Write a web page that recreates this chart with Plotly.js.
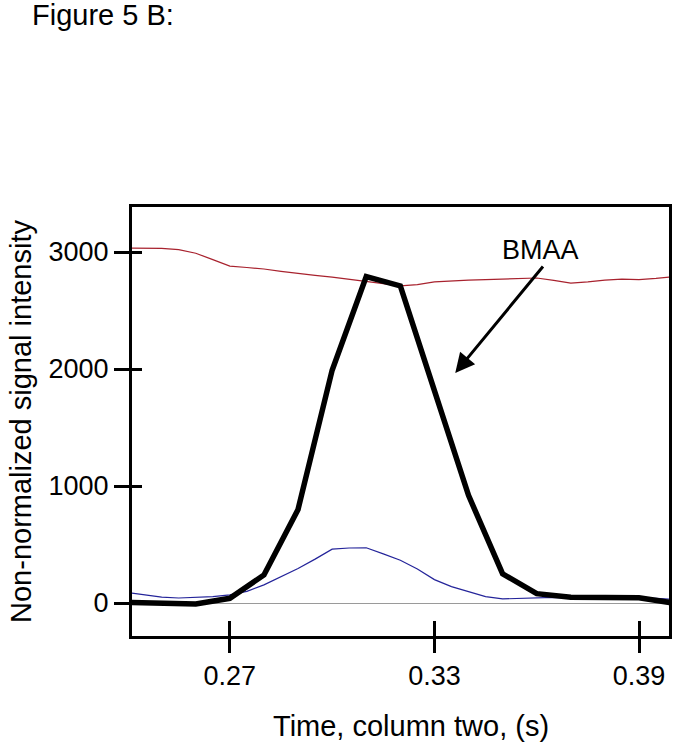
<!DOCTYPE html>
<html>
<head>
<meta charset="utf-8">
<script src="https://cdn.plot.ly/plotly-3.0.1.min.js"></script>
<style>html,body{margin:0;padding:0;background:#fff;}#chart{width:682px;height:753px;}</style>
</head>
<body>
<div id="chart"></div>
<script>
// Tick values / labels
const xTickVals = [0.27, 0.33, 0.39];
const xTickText = ["0.27", "0.33", "0.39"];
const yTickVals = [0, 1000, 2000, 3000];
const yTickText = ["0", "1000", "2000", "3000"];

// BMAA trace (thick black), sampled every 0.01 s
const bmaaX = [0.24, 0.25, 0.26, 0.27, 0.28, 0.29, 0.30, 0.31, 0.32, 0.33, 0.34, 0.35, 0.36, 0.37, 0.38, 0.39, 0.40];
const bmaaY = [5, 0, -8, 40, 240, 800, 1990, 2790, 2710, 1815, 920, 250, 80, 50, 45, 45, 0];

// Red and blue traces, sampled every 0.005 s
const fineX = [0.240, 0.245, 0.250, 0.255, 0.260, 0.265, 0.270, 0.275, 0.280, 0.285, 0.290, 0.295, 0.300, 0.305, 0.310, 0.315, 0.320, 0.325, 0.330, 0.335, 0.340, 0.345, 0.350, 0.355, 0.360, 0.365, 0.370, 0.375, 0.380, 0.385, 0.390, 0.395, 0.400];
const redY = [3034, 3034, 3032, 3020, 2990, 2935, 2880, 2868, 2855, 2835, 2815, 2800, 2785, 2768, 2750, 2730, 2710, 2722, 2745, 2755, 2760, 2765, 2770, 2775, 2778, 2758, 2735, 2745, 2760, 2768, 2765, 2775, 2790];
const blueY = [90, 70, 50, 43, 48, 55, 70, 100, 155, 225, 295, 375, 460, 470, 472, 420, 365, 290, 200, 140, 95, 55, 35, 40, 48, 48, 45, 45, 45, 45, 45, 40, 30];

const FONT = "Arial, 'Liberation Sans', sans-serif";
const xRange = [0.2413, 0.3988];
const yRange = [-282, 3385];

const traces = [
  {x: fineX, y: redY, type: 'scatter', mode: 'lines', line: {color: '#a8222e', width: 1.2}, hoverinfo: 'skip'},
  {x: fineX, y: blueY, type: 'scatter', mode: 'lines', line: {color: '#24249a', width: 1.2}, hoverinfo: 'skip'},
  {x: bmaaX, y: bmaaY, type: 'scatter', mode: 'lines', line: {color: '#000000', width: 5.5, shape: 'linear'}, hoverinfo: 'skip'},
  {x: [], y: [], xaxis: 'x2', yaxis: 'y2', type: 'scatter', mode: 'lines', showlegend: false, hoverinfo: 'skip'}
];

const layout = {
  width: 682, height: 753,
  paper_bgcolor: '#ffffff', plot_bgcolor: '#ffffff',
  showlegend: false,
  margin: {l: 132, r: 13, t: 207, b: 117, pad: 0},
  font: {family: FONT, size: 27, color: '#000'},
  title: {text: 'Figure 5 B:', font: {family: FONT, size: 29, color: '#000'},
          xref: 'container', yref: 'container', x: 32/682, xanchor: 'left', y: 1 - 5/753, yanchor: 'top'},
  xaxis: {
    range: xRange, tickvals: xTickVals, ticktext: xTickText,
    ticks: 'outside', ticklen: 14, tickwidth: 3, tickcolor: '#000',
    showline: true, linewidth: 3, linecolor: '#000', mirror: true,
    showgrid: false, zeroline: false,
    tickfont: {family: FONT, size: 27, color: '#000'}
  },
  yaxis: {
    range: yRange, tickvals: yTickVals, ticktext: yTickText,
    ticks: 'outside', ticklen: 15, tickwidth: 3, tickcolor: '#000',
    showline: true, linewidth: 3, linecolor: '#000', mirror: true,
    showgrid: false, zeroline: true, zerolinecolor: '#9a9a9a', zerolinewidth: 1,
    tickfont: {family: FONT, size: 27, color: '#000'},
    title: {text: 'Non-normalized signal intensity', font: {family: FONT, size: 29, color: '#000'}, standoff: 9}
  },
  xaxis2: {
    overlaying: 'x', range: xRange, tickvals: xTickVals, showticklabels: false,
    ticks: 'inside', ticklen: 15, tickwidth: 3, tickcolor: '#000',
    showline: false, showgrid: false, zeroline: false, side: 'bottom'
  },
  yaxis2: {
    overlaying: 'y', range: yRange, tickvals: yTickVals, showticklabels: false,
    ticks: 'inside', ticklen: 10, tickwidth: 3, tickcolor: '#000',
    showline: false, showgrid: false, zeroline: false, side: 'left'
  },
  annotations: [
    {x: (411 - 132) / 537, y: -0.21, xref: 'paper', yref: 'paper', text: 'Time, column two, (s)', showarrow: false,
     font: {family: FONT, size: 29, color: '#000'}, xanchor: 'center', yanchor: 'middle'},
    {x: 0.3610, y: 3017, xref: 'x', yref: 'y', text: 'BMAA', showarrow: false,
     font: {family: FONT, size: 27, color: '#000'}, xanchor: 'center', yanchor: 'middle'},
    {x: 0.3361, y: 1966, xref: 'x', yref: 'y', text: '', showarrow: true,
     ax: 89, ay: -108, arrowhead: 2, arrowsize: 1.3, arrowwidth: 3, arrowcolor: '#000'}
  ]
};

Plotly.newPlot('chart', traces, layout, {displayModeBar: false, staticPlot: true});
</script>
</body>
</html>
